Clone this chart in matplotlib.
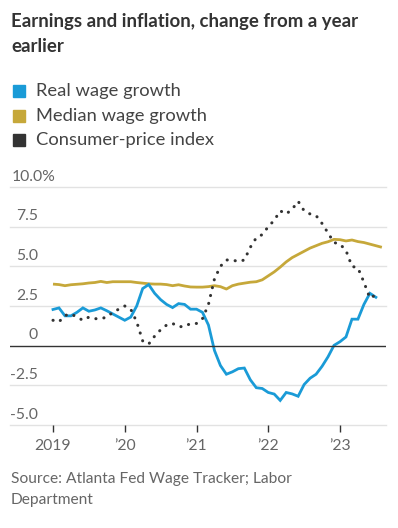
import numpy as np
import matplotlib.pyplot as plt
from matplotlib.patches import Rectangle

# monthly values, Jan 2019 onward
real_wage = [2.28, 2.38, 1.88, 1.88, 2.1, 2.38, 2.17, 2.25, 2.38, 2.2, 2.0, 1.8,
             1.6, 1.8, 2.5, 3.6, 3.85, 3.3, 2.9, 2.6, 2.4, 2.65, 2.6, 2.3,
             2.3, 2.1, 1.3, -0.3, -1.25, -1.8, -1.65, -1.45, -1.41, -2.15, -2.65, -2.7,
             -2.95, -3.05, -3.45, -2.95, -3.04, -3.19, -2.45, -2.05, -1.8, -1.3, -0.7, 0.02,
             0.25, 0.55, 1.67, 1.67, 2.6, 3.3, 3.05]
median_wage = [3.88, 3.85, 3.78, 3.84, 3.87, 3.9, 3.95, 3.98, 4.05, 3.98, 4.03, 4.03,
               4.03, 4.03, 3.98, 3.94, 3.9, 3.88, 3.88, 3.85, 3.78, 3.84, 3.76, 3.7,
               3.69, 3.69, 3.72, 3.78, 3.72, 3.57, 3.78, 3.88, 3.94, 4.0, 4.03, 4.15,
               4.4, 4.65, 4.95, 5.28, 5.55, 5.75, 5.95, 6.15, 6.3, 6.45, 6.55, 6.7,
               6.68, 6.6, 6.66, 6.56, 6.5, 6.4, 6.3, 6.2]
cpi = [1.6, 1.5, 1.9, 2.0, 1.8, 1.6, 1.8, 1.7, 1.7, 1.8, 2.1, 2.3,
       2.5, 2.3, 1.5, 0.3, 0.1, 0.6, 1.0, 1.3, 1.4, 1.2, 1.2, 1.4,
       1.4, 1.7, 2.6, 4.2, 5.0, 5.4, 5.4, 5.3, 5.4, 6.2, 6.8, 7.0,
       7.5, 7.9, 8.5, 8.3, 8.6, 9.1, 8.5, 8.3, 8.2, 7.7, 7.1, 6.5,
       6.4, 6.0, 5.0, 4.9, 4.0, 3.0, 3.2]

series_names = ['Real wage growth', 'Median wage growth', 'Consumer-price index']
year_ticks = [0, 12, 24, 36, 48]
year_labels = ['2019', '\u201920', '\u201921', '\u201922', '\u201923']
y_ticks = [10, 7.5, 5, 2.5, 0, -2.5, -5]
y_labels = ['10.0%', '7.5', '5.0', '2.5', '0', '-2.5', '-5.0']

BLUE = '#1a9bd7'
GOLD = '#c6a83a'
DARK = '#333333'
GREY = '#666666'

plt.rcParams['font.family'] = ['Lato', 'DejaVu Sans']

W, H = 398, 528
fig = plt.figure(figsize=(W / 100, H / 100), dpi=100)

def fx(px):
    return px / W

def fy(py):
    return 1 - py / H

# plot area: x 10..386 px, y 187..425 px
ax = fig.add_axes([fx(10), fy(425), (386 - 10) / W, (425 - 187) / H])
px_per_month = 71.75 / 12
ax.set_xlim(-(53 - 10) / px_per_month, (386 - 53) / px_per_month)
ax.set_ylim(-5, 10)

for v in y_ticks:
    if v == 0:
        ax.axhline(v, color=DARK, lw=1.0, zorder=4)
    else:
        ax.axhline(v, color='#e2e2e2', lw=1.0, zorder=1, clip_on=False)

ax.plot(np.arange(len(median_wage)), median_wage, color=GOLD, lw=2.0, zorder=2,
        solid_capstyle='butt')
ax.plot(np.arange(len(real_wage)), real_wage, color=BLUE, lw=2.0, zorder=3,
        solid_joinstyle='miter')
ax.plot(np.arange(len(cpi)), cpi, color=DARK, lw=2.2, zorder=5,
        linestyle=(0, (0.05, 2.6)), dash_capstyle='round')

for s in ax.spines.values():
    s.set_visible(False)
ax.set_yticks([])
ax.set_xticks(year_ticks)
ax.set_xticklabels(year_labels, fontsize=11.3, color=GREY)
ax.tick_params(axis='x', length=5, width=1, color=DARK, pad=5)

# y labels sit just above each gridline
lab_x = (38 - 53) / px_per_month
for v, lab in zip(y_ticks, y_labels):
    if v == 10:
        ax.text((12 - 53) / px_per_month, v + 0.2, lab, ha='left', va='bottom',
                fontsize=11.3, color=GREY)
    else:
        ax.text(lab_x, v + 0.2, lab, ha='right', va='bottom',
                fontsize=11.3, color=GREY)

fig.text(fx(11), fy(22), 'Earnings and inflation, change from a year',
         fontsize=13.4, fontweight='bold', color=DARK, va='center')
fig.text(fx(11), fy(47), 'earlier',
         fontsize=13.4, fontweight='bold', color=DARK, va='center')

for i, (name, col) in enumerate(zip(series_names, [BLUE, GOLD, DARK])):
    cy = 91 + i * 24.5
    fig.patches.append(Rectangle((fx(13), fy(cy + 6)), 12 / W, 12 / H,
                                 transform=fig.transFigure, color=col))
    fig.text(fx(36), fy(cy), name, fontsize=13.2, color='#444444', va='center')

fig.text(fx(11), fy(479), 'Source: Atlanta Fed Wage Tracker; Labor',
         fontsize=11.2, color=GREY, va='center')
fig.text(fx(11), fy(500), 'Department',
         fontsize=11.2, color=GREY, va='center')

fig.savefig('out.png', dpi=100)
